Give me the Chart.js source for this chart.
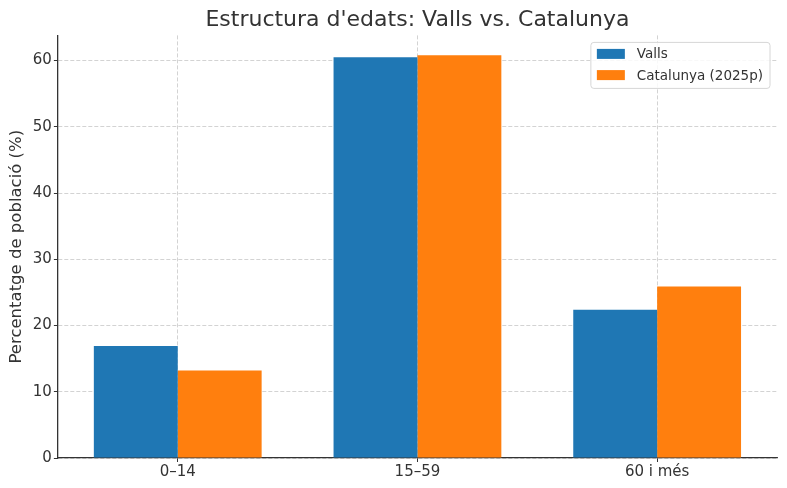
<!DOCTYPE html>
<html lang="ca">
  <head>
    <meta charset="UTF-8" />
    <title>Estructura d'edats</title>
    <script src="https://cdn.jsdelivr.net/npm/chart.js@4.4.1/dist/chart.umd.min.js"></script>
    <style>
      html, body { margin: 0; padding: 0; background: #fff; }
      #wrap { width: 787px; height: 488px; }
    </style>
  </head>
  <body>
    <div id="wrap">
      <canvas id="edatsChart" width="787" height="488"></canvas>
    </div>
    <script>
      // dades llegides del gràfic
      const grups = ["0–14", "15–59", "60 i més"];
      const valls = [16.9, 60.5, 22.4];
      const catalunya = [13.2, 60.8, 25.9];
      const yTicks = [0, 10, 20, 30, 40, 50, 60];

      const ink = "#333333";
      const font = "'DejaVu Sans', sans-serif";

      // títol centrat sobre l'àrea del gràfic (com matplotlib)
      const titleOnArea = {
        id: "titleOnArea",
        afterLayout(chart) {
          const t = chart.titleBlock;
          if (!t) return;
          t.left = chart.chartArea.left;
          t.right = chart.chartArea.right;
          t.width = t.right - t.left;
        },
      };

      // llegenda dins l'àrea, a dalt a la dreta
      const boxLegend = {
        id: "boxLegend",
        afterDraw(chart) {
          const ctx = chart.ctx;
          const area = chart.chartArea;
          const sets = chart.data.datasets;
          ctx.save();
          ctx.font = "13.5px " + font;
          let maxW = 0;
          sets.forEach(function (ds) {
            maxW = Math.max(maxW, ctx.measureText(ds.label).width);
          });
          const w = 6 + 28 + 12 + maxW + 7;
          const h = 46;
          const x = area.right - 7 - w;
          const y = area.top + 7;
          ctx.beginPath();
          ctx.roundRect(x, y, w, h, 3);
          ctx.fillStyle = "rgba(255,255,255,0.85)";
          ctx.fill();
          ctx.strokeStyle = "#d6d6d6";
          ctx.lineWidth = 1;
          ctx.stroke();
          sets.forEach(function (ds, i) {
            const cy = y + 11.5 + i * 21.2;
            ctx.fillStyle = ds.backgroundColor;
            ctx.fillRect(x + 6, cy - 5, 28, 10);
            ctx.fillStyle = ink;
            ctx.textBaseline = "middle";
            ctx.textAlign = "left";
            ctx.fillText(ds.label, x + 6 + 28 + 12, cy + 1);
          });
          ctx.restore();
        },
      };

      const ctx = document.querySelector("#edatsChart").getContext("2d");
      const myChart = new Chart(ctx, {
        type: "bar",
        data: {
          labels: grups,
          datasets: [
            { label: "Valls", data: valls, backgroundColor: "#1f77b4", borderWidth: 0 },
            { label: "Catalunya (2025p)", data: catalunya, backgroundColor: "#ff7f0e", borderWidth: 0 },
          ],
        },
        options: {
          responsive: false,
          devicePixelRatio: 1,
          animation: false,
          datasets: {
            bar: { categoryPercentage: 0.7, barPercentage: 1.0 },
          },
          layout: { padding: { top: 0, right: 10, bottom: 6, left: 0 } },
          plugins: {
            legend: { display: false },
            tooltip: { enabled: false },
            title: {
              display: true,
              text: "Estructura d'edats: Valls vs. Catalunya",
              color: ink,
              font: { family: font, size: 22, weight: "normal" },
              padding: { top: 7, bottom: 2 },
            },
          },
          scales: {
            x: {
              z: 1,
              offset: true,
              grid: {
                offset: false,
                color: "rgba(176,176,176,0.7)",
                lineWidth: 0.8,
                tickLength: 4,
                tickColor: ink,
                tickWidth: 1,
              },
              border: { display: true, color: ink, width: 1.3, dash: [4, 2] },
              ticks: { color: ink, padding: 1, font: { family: font, size: 15 } },
            },
            y: {
              z: 1,
              min: 0,
              max: 63.8,
              afterBuildTicks(scale) {
                scale.ticks = yTicks.map(function (v) { return { value: v }; });
              },
              grid: {
                color: "rgba(176,176,176,0.7)",
                lineWidth: 0.8,
                tickLength: 4,
                tickColor: ink,
                tickWidth: 1,
              },
              border: { display: true, color: ink, width: 1.3, dash: [4, 2] },
              ticks: { color: ink, padding: 2, font: { family: font, size: 15 } },
              title: {
                display: true,
                text: "Percentatge de població (%)",
                color: ink,
                font: { family: font, size: 16.5 },
                padding: { top: 7, bottom: 4 },
              },
            },
          },
        },
        plugins: [titleOnArea, boxLegend],
      });
    </script>
  </body>
</html>
